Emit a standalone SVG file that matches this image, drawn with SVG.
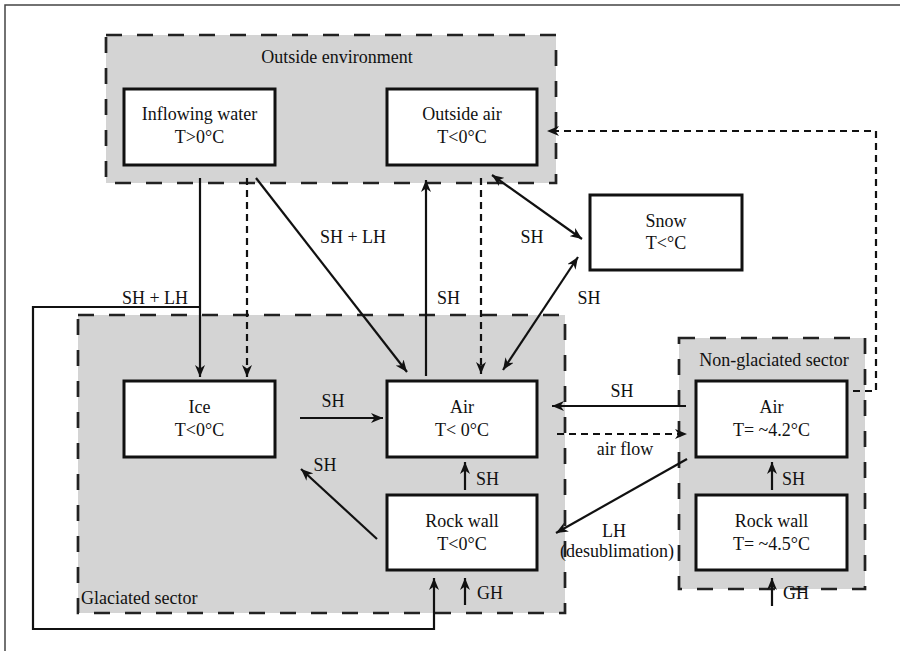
<svg xmlns="http://www.w3.org/2000/svg" width="900" height="651" viewBox="0 0 900 651">
<defs>
<marker id="ah" viewBox="0 0 12 10" refX="12" refY="5" markerWidth="12" markerHeight="10" markerUnits="userSpaceOnUse" orient="auto-start-reverse">
<path d="M0,0 L12,5 L0,10 L3.5,5 z" fill="#111"/>
</marker>
<style>
text{font-family:"Liberation Serif","Times New Roman",serif;font-size:18px;fill:#111}
.c{text-anchor:middle}
.sector{fill:#d4d4d4;stroke:#222;stroke-width:2.7;stroke-dasharray:16 15}
.box{fill:#fff;stroke:#111;stroke-width:3}
.ln{fill:none;stroke:#111;stroke-width:2.2}
.dl{fill:none;stroke:#111;stroke-width:2.2;stroke-dasharray:7 5}
.arr{marker-end:url(#ah)}
.dbl{marker-start:url(#ah);marker-end:url(#ah)}
</style>
</defs>
<rect width="900" height="651" fill="#fff"/>
<path d="M5,651 V5 H900" fill="none" stroke="#444" stroke-width="1.5"/>

<g id="outside-environment">
<rect class="sector" x="106" y="35" width="450" height="148"/>
<text class="c" x="337" y="63">Outside environment</text>
</g>
<g id="glaciated-sector">
<rect class="sector" x="78" y="315" width="487" height="298"/>
<text x="81" y="604">Glaciated sector</text>
</g>
<g id="non-glaciated-sector">
<rect class="sector" x="679" y="338" width="186" height="251"/>
<text class="c" x="774" y="366">Non-glaciated sector</text>
</g>

<g id="inflowing-water">
<rect class="box" x="124" y="89" width="151" height="76"/>
<text class="c" x="199.5" y="120">Inflowing water</text>
<text class="c" x="199.5" y="143">T&gt;0°C</text>
</g>
<g id="outside-air">
<rect class="box" x="387" y="89" width="150" height="76"/>
<text class="c" x="462" y="120">Outside air</text>
<text class="c" x="462" y="143">T&lt;0°C</text>
</g>
<g id="snow">
<rect class="box" x="590" y="195" width="152" height="75"/>
<text class="c" x="666" y="227">Snow</text>
<text class="c" x="666" y="249">T&lt;°C</text>
</g>
<g id="ice">
<rect class="box" x="124" y="381" width="151" height="76"/>
<text class="c" x="199.5" y="413">Ice</text>
<text class="c" x="199.5" y="436">T&lt;0°C</text>
</g>
<g id="air-glaciated">
<rect class="box" x="387" y="381" width="150" height="76"/>
<text class="c" x="462" y="413">Air</text>
<text class="c" x="462" y="436">T&lt; 0°C</text>
</g>
<g id="rock-wall-glaciated">
<rect class="box" x="387" y="495" width="150" height="75"/>
<text class="c" x="462" y="527">Rock wall</text>
<text class="c" x="462" y="550">T&lt;0°C</text>
</g>
<g id="air-non-glaciated">
<rect class="box" x="696" y="381" width="151" height="76"/>
<text class="c" x="771.5" y="413">Air</text>
<text class="c" x="771.5" y="436">T= ~4.2°C</text>
</g>
<g id="rock-wall-non-glaciated">
<rect class="box" x="696" y="495" width="151" height="75"/>
<text class="c" x="771.5" y="527">Rock wall</text>
<text class="c" x="771.5" y="550">T= ~4.5°C</text>
</g>

<g id="connectors">
<path class="ln arr" d="M200,178 V377"/>
<path class="dl arr" d="M247,178 V377"/>
<path class="ln arr" d="M256,178 L407,372"/>
<path class="ln arr" d="M426,376 V180"/>
<path class="dl arr" d="M481,178 V374"/>
<path class="ln dbl" d="M492,175 L582,239"/>
<path class="ln dbl" d="M578,257 L503,370"/>
<path class="ln arr" d="M300,418 H383"/>
<path class="ln arr" d="M377,539 L301,469"/>
<path class="ln arr" d="M465,490 V462"/>
<path class="ln arr" d="M465,605 V578"/>
<path class="ln arr" d="M200,307 H33 V629 H434 V578"/>
<path class="ln arr" d="M686,406 H552"/>
<path class="dl arr" d="M557,434 H687"/>
<path class="ln arr" d="M687,459 L556,533"/>
<path class="ln arr" d="M772,490 V462"/>
<path class="ln arr" d="M772,606 V578"/>
<path class="dl arr" d="M853,391 H876 V131 H547"/>
<text class="c" x="155" y="304">SH + LH</text>
<text class="c" x="353" y="243">SH + LH</text>
<text x="437" y="304">SH</text>
<text class="c" x="532" y="243">SH</text>
<text class="c" x="589" y="304">SH</text>
<text class="c" x="333" y="407">SH</text>
<text class="c" x="325" y="471">SH</text>
<text x="476" y="485">SH</text>
<text x="477" y="599">GH</text>
<text class="c" x="622" y="397">SH</text>
<text class="c" x="625" y="455">air flow</text>
<text class="c" x="614" y="537">LH</text>
<text class="c" x="617" y="557">(desublimation)</text>
<text x="782" y="485">SH</text>
<text x="783" y="599">GH</text>
</g>
</svg>
